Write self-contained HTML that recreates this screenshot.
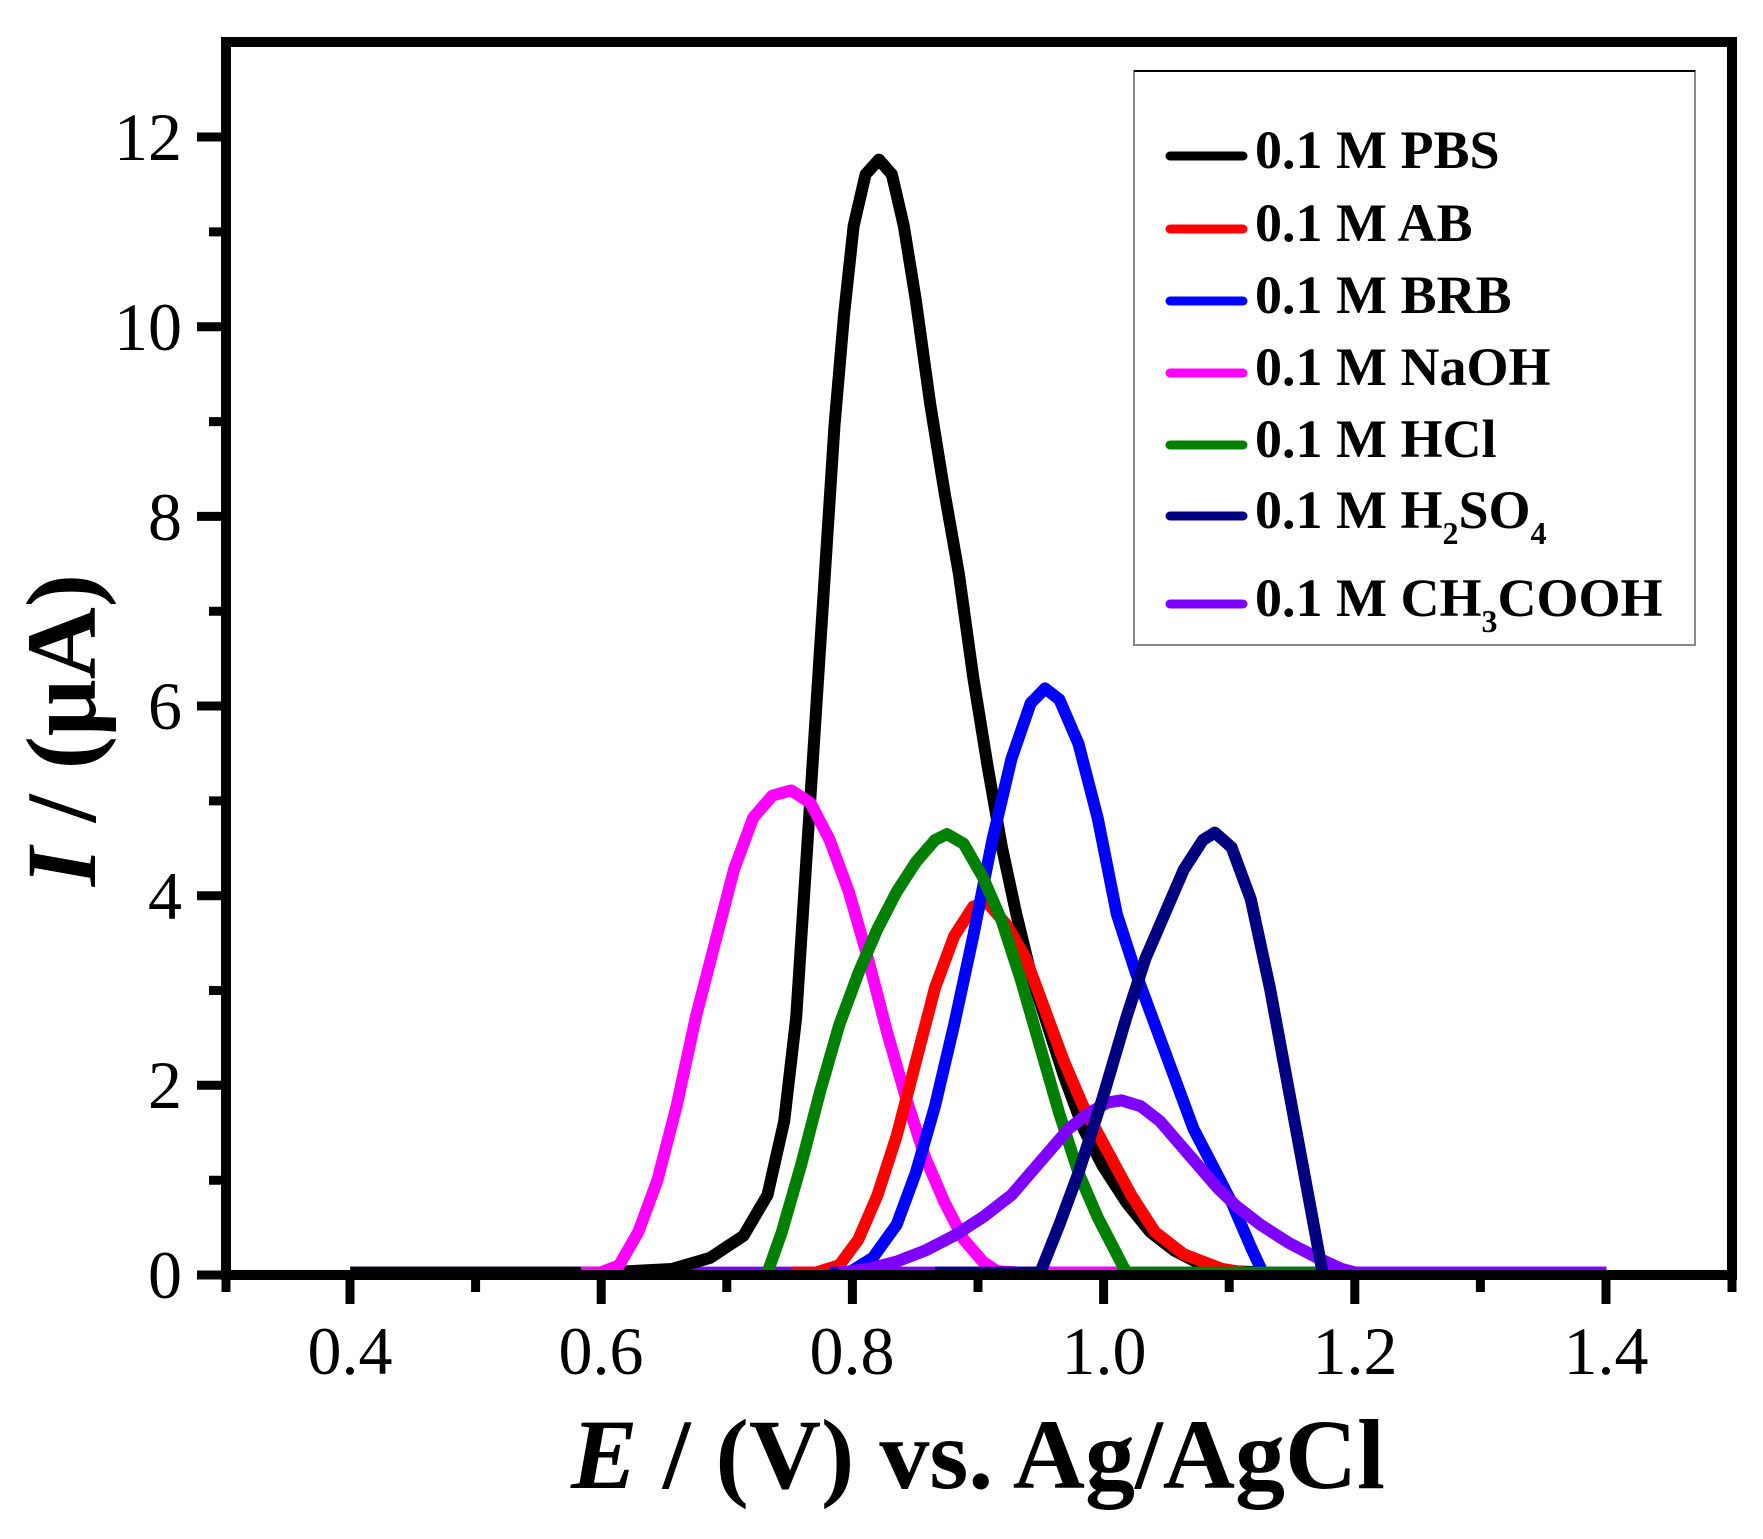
<!DOCTYPE html>
<html><head><meta charset="utf-8"><style>
html,body{margin:0;padding:0;background:#fff;}
svg{display:block;}
text{font-family:"Liberation Serif",serif;}
</style></head><body>
<svg width="1763" height="1539" viewBox="0 0 1763 1539" xmlns="http://www.w3.org/2000/svg">
<rect x="0" y="0" width="1763" height="1539" fill="#fff"/>
<g fill="none" stroke-width="12" stroke-linejoin="round" stroke-linecap="butt">
<g transform="translate(600,130) scale(0.4785,0.7396)">
<polyline vector-effect="non-scaling-stroke" stroke="#8000ff" points="-522,1545 2103,1545"/>
<polyline vector-effect="non-scaling-stroke" stroke="#000" points="-522,1545 0,1545 150,1540 230,1525 300,1495 350,1440 385,1340 410,1200 430,1000 450,800 470,600 490,400 510,250 530,130 555,60 583,40 610,60 635,130 660,230 690,370 720,490 750,600 780,740 810,860 840,970 870,1060 900,1140 930,1200 970,1280 1010,1350 1050,1400 1100,1450 1150,1490 1200,1515 1260,1535 1320,1543 1400,1545"/>
<polyline vector-effect="non-scaling-stroke" stroke="#ff00ff" points="-40,1545 0,1545 40,1535 80,1490 120,1420 160,1320 200,1200 240,1100 280,1000 320,930 360,900 400,893 440,910 480,960 520,1030 560,1120 600,1220 640,1310 680,1390 720,1450 760,1500 800,1530 830,1543 880,1545 1100,1545"/>
<polyline vector-effect="non-scaling-stroke" stroke="#ff0000" points="400,1545 450,1545 500,1535 540,1500 580,1440 620,1360 660,1260 700,1160 740,1090 780,1050 810,1045 850,1075 890,1120 930,1190 970,1260 1010,1320 1060,1380 1110,1440 1160,1490 1220,1520 1300,1540 1350,1545"/>
<polyline vector-effect="non-scaling-stroke" stroke="#0000ff" points="480,1545 520,1545 570,1525 620,1480 660,1410 700,1320 740,1210 780,1090 820,960 860,850 900,775 930,755 960,770 1000,830 1040,930 1080,1060 1120,1140 1160,1210 1200,1280 1240,1350 1280,1400 1320,1450 1360,1510 1385,1545"/>
<polyline vector-effect="non-scaling-stroke" stroke="#008000" points="350,1545 380,1490 420,1400 460,1300 500,1210 540,1140 580,1080 620,1030 660,990 700,960 725,952 760,965 800,1010 840,1070 880,1150 920,1240 960,1330 1000,1410 1040,1470 1080,1520 1100,1545 1500,1545"/>
<polyline vector-effect="non-scaling-stroke" stroke="#8000ff" points="500,1545 560,1540 620,1530 680,1515 740,1495 800,1470 860,1440 900,1410 940,1380 980,1350 1020,1330 1060,1315 1090,1312 1130,1320 1170,1340 1210,1370 1250,1400 1290,1430 1330,1455 1380,1480 1440,1505 1500,1525 1550,1540 1580,1545 2103,1545"/>
<polyline vector-effect="non-scaling-stroke" stroke="#000080" points="700,1545 920,1545 960,1480 1000,1410 1050,1310 1100,1200 1140,1120 1180,1060 1220,1000 1260,960 1285,950 1320,970 1360,1040 1400,1160 1440,1300 1480,1440 1510,1545"/>
</g>
</g>
<rect x="226" y="42" width="1506" height="1233" fill="none" stroke="#000" stroke-width="10"/>
<g stroke="#000" stroke-width="9">
<line x1="197" y1="1275" x2="226" y2="1275"/>
<line x1="197" y1="1085.3" x2="226" y2="1085.3"/>
<line x1="197" y1="895.7" x2="226" y2="895.7"/>
<line x1="197" y1="706" x2="226" y2="706"/>
<line x1="197" y1="516.4" x2="226" y2="516.4"/>
<line x1="197" y1="326.7" x2="226" y2="326.7"/>
<line x1="197" y1="137" x2="226" y2="137"/>
<line x1="209" y1="1180.2" x2="226" y2="1180.2"/>
<line x1="209" y1="990.5" x2="226" y2="990.5"/>
<line x1="209" y1="800.9" x2="226" y2="800.9"/>
<line x1="209" y1="611.2" x2="226" y2="611.2"/>
<line x1="209" y1="421.6" x2="226" y2="421.6"/>
<line x1="209" y1="231.9" x2="226" y2="231.9"/>
<line x1="350" y1="1275" x2="350" y2="1304"/>
<line x1="601.2" y1="1275" x2="601.2" y2="1304"/>
<line x1="852.4" y1="1275" x2="852.4" y2="1304"/>
<line x1="1103.6" y1="1275" x2="1103.6" y2="1304"/>
<line x1="1354.8" y1="1275" x2="1354.8" y2="1304"/>
<line x1="1606" y1="1275" x2="1606" y2="1304"/>
<line x1="226" y1="1275" x2="226" y2="1292"/>
<line x1="475.6" y1="1275" x2="475.6" y2="1292"/>
<line x1="726.8" y1="1275" x2="726.8" y2="1292"/>
<line x1="978" y1="1275" x2="978" y2="1292"/>
<line x1="1229.2" y1="1275" x2="1229.2" y2="1292"/>
<line x1="1480.4" y1="1275" x2="1480.4" y2="1292"/>
<line x1="1732" y1="1275" x2="1732" y2="1292"/>
</g>
<g font-size="68" text-anchor="end" fill="#000">
<text x="182" y="1298">0</text>
<text x="182" y="1108">2</text>
<text x="182" y="919">4</text>
<text x="182" y="729">6</text>
<text x="182" y="540">8</text>
<text x="182" y="350">10</text>
<text x="182" y="160">12</text>
</g>
<g font-size="68" text-anchor="middle" fill="#000">
<text x="350" y="1374">0.4</text>
<text x="601" y="1374">0.6</text>
<text x="852" y="1374">0.8</text>
<text x="1104" y="1374">1.0</text>
<text x="1355" y="1374">1.2</text>
<text x="1606" y="1374">1.4</text>
</g>
<text x="978" y="1488" font-size="100" font-weight="bold" text-anchor="middle"><tspan font-style="italic">E</tspan> / (V) vs. Ag/AgCl</text>
<text transform="translate(95,730) rotate(-90)" font-size="100" font-weight="bold" text-anchor="middle"><tspan font-style="italic">I</tspan> / (μA)</text>
<rect x="1134" y="71" width="561" height="574" fill="#fff" stroke="#888" stroke-width="2"/>
<line x1="1134" y1="71" x2="1695" y2="71" stroke="#000" stroke-width="2"/>
<g stroke-width="9" stroke-linecap="round">
<line x1="1170" y1="156" x2="1243" y2="156" stroke="#000"/>
<line x1="1170" y1="229" x2="1243" y2="229" stroke="#ff0000"/>
<line x1="1170" y1="301" x2="1243" y2="301" stroke="#0000ff"/>
<line x1="1170" y1="373" x2="1243" y2="373" stroke="#ff00ff"/>
<line x1="1170" y1="445" x2="1243" y2="445" stroke="#008000"/>
<line x1="1170" y1="516" x2="1243" y2="516" stroke="#000080"/>
<line x1="1170" y1="604" x2="1243" y2="604" stroke="#8000ff"/>
</g>
<g font-size="54" font-weight="bold" fill="#000">
<text x="1255" y="168">0.1 M PBS</text>
<text x="1255" y="241">0.1 M AB</text>
<text x="1255" y="313">0.1 M BRB</text>
<text x="1255" y="385">0.1 M NaOH</text>
<text x="1255" y="457">0.1 M HCl</text>
<text x="1255" y="528">0.1 M H<tspan font-size="32" dy="16">2</tspan><tspan dy="-16">SO</tspan><tspan font-size="32" dy="16">4</tspan></text>
<text x="1255" y="616">0.1 M CH<tspan font-size="32" dy="16">3</tspan><tspan dy="-16">COOH</tspan></text>
</g>
</svg>
</body></html>
